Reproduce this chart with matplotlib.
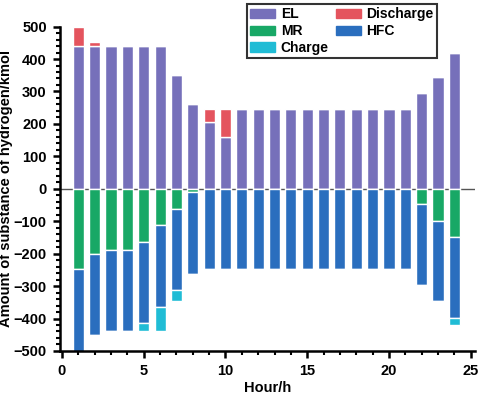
import matplotlib

matplotlib.use("Agg")
import matplotlib.pyplot as plt
import numpy as np
from matplotlib.patches import Patch
from matplotlib.ticker import MultipleLocator

plt.rcParams["font.family"] = ["Liberation Sans", "DejaVu Sans"]
plt.rcParams["font.weight"] = "bold"

hours = np.arange(1, 25)
# supply side (positive)
el = [440, 440, 440, 440, 440, 440, 350, 262, 205, 160, 247, 247,
      247, 247, 247, 247, 247, 247, 247, 247, 247, 296, 346, 419]
discharge = [60, 12, 0, 0, 0, 0, 0, 0, 42, 87, 0, 0,
             0, 0, 0, 0, 0, 0, 0, 0, 0, 0, 0, 0]
# demand side (negative)
mr = [248, 200, 190, 190, 165, 112, 62, 10, 0, 0, 0, 0,
      0, 0, 0, 0, 0, 0, 0, 0, 0, 48, 98, 148]
hfc = [255, 250, 248, 248, 248, 252, 250, 252, 247, 247, 247, 247,
       247, 247, 247, 247, 247, 247, 247, 247, 247, 248, 249, 250]
charge = [0, 0, 0, 0, 25, 74, 35, 0, 0, 0, 0, 0,
          0, 0, 0, 0, 0, 0, 0, 0, 0, 0, 0, 21]

C_EL = "#7670BA"
C_DIS = "#E4545E"
C_MR = "#18A866"
C_HFC = "#2A6EBE"
C_CH = "#20BCD5"

el = np.array(el)
discharge = np.array(discharge)
mr = -np.array(mr)
hfc = -np.array(hfc)
charge = -np.array(charge)

fig = plt.figure(figsize=(4.84, 3.97), dpi=100)
ax = fig.add_axes([0.124, 0.116, 0.857, 0.817])

ax.axhline(0, color="#555555", lw=1, zorder=0)
w = 0.68
kw = dict(width=w, edgecolor="white", linewidth=1.0, zorder=2)
ax.bar(hours, el, color=C_EL, **kw)
ax.bar(hours, discharge, bottom=el, color=C_DIS, **kw)
ax.bar(hours, mr, color=C_MR, **kw)
ax.bar(hours, hfc, bottom=mr, color=C_HFC, **kw)
ax.bar(hours, charge, bottom=mr + hfc, color=C_CH, **kw)

ax.set_xlim(-0.12, 25.25)
ax.set_ylim(-500, 500)
ax.xaxis.set_major_locator(MultipleLocator(5))
ax.xaxis.set_minor_locator(MultipleLocator(1))
ax.yaxis.set_major_locator(MultipleLocator(100))
ax.yaxis.set_minor_locator(MultipleLocator(20))
for s in ("top", "right"):
    ax.spines[s].set_visible(False)
for s in ("left", "bottom"):
    ax.spines[s].set_linewidth(1.8)
ax.tick_params(which="major", length=5, width=1.8, labelsize=10.5, pad=4.5)
ax.tick_params(which="minor", length=3, width=1.5)
ax.set_xlabel("Hour/h", fontsize=10.5, fontweight="bold", labelpad=2)
ax.set_ylabel("Amount of substance of hydrogen/kmol", fontsize=10.5,
              fontweight="bold")
ax.yaxis.set_label_coords(-0.113, 0.5)

handles = [Patch(color=C_EL, label="EL"), Patch(color=C_MR, label="MR"),
           Patch(color=C_CH, label="Charge"), Patch(color=C_DIS, label="Discharge"),
           Patch(color=C_HFC, label="HFC")]
leg = fig.legend(handles=handles, ncol=2, loc="upper left",
                 bbox_to_anchor=(0.51, 0.99), fontsize=10,
                 frameon=True, fancybox=False, edgecolor="black",
                 handlelength=1.8, handleheight=0.65, columnspacing=0.5,
                 handletextpad=0.4, labelspacing=0.2, borderpad=0.25,
                 borderaxespad=0)
leg.get_frame().set_linewidth(1.5)

fig.savefig("out.png", dpi=100)
